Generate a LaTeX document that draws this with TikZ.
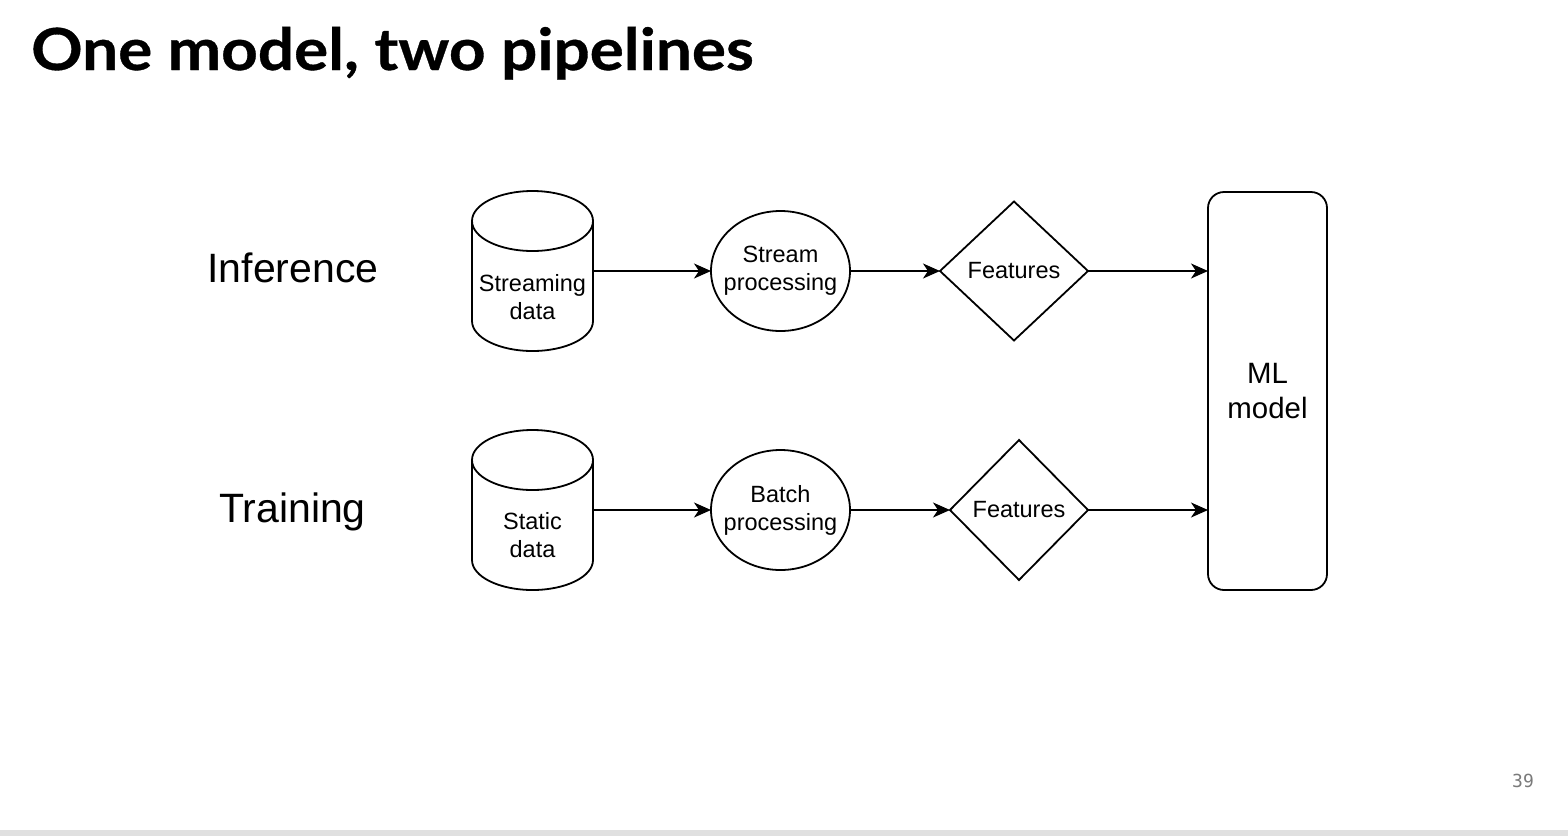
\documentclass[tikz,border=0pt]{standalone}
\usepackage{fontspec}
\setmainfont{Liberation Sans}
\newfontfamily\titlefont[FakeStretch=1.1, FakeBold=0.6]{Lato}
\newfontfamily\pagefont{DejaVu Sans Mono}
\usepackage{tikz}
\usetikzlibrary{arrows.meta, shapes.geometric, calc}
\definecolor{barcol}{HTML}{E0E0E0}
\definecolor{pagecol}{HTML}{7A7A7A}

% outline of a database cylinder drawn over a named box node
\newcommand{\dbcylinder}[1]{%
  \draw[shapeline] ($(#1.north west)+(0,-30)$) -- ($(#1.south west)+(0,30)$)
    arc[start angle=180, end angle=360, x radius=60.5pt, y radius=30pt]
    -- ($(#1.north east)+(0,-30)$)
    arc[start angle=0, end angle=180, x radius=60.5pt, y radius=30pt]
    arc[start angle=180, end angle=360, x radius=60.5pt, y radius=30pt];
}

\begin{document}
\begin{tikzpicture}[x=1pt, y=1pt, >={Stealth[length=17pt, width=15pt, inset=5pt]},
  shapeline/.style={draw=black, line width=1.8pt},
  conn/.style={->, line width=1.9pt},
  rowlabel/.style={font=\fontsize{41}{48}\selectfont, inner sep=0pt},
  boxtext/.style={font=\fontsize{23.5}{28}\selectfont, align=center, inner sep=0pt},
  dbbox/.style={minimum width=121pt, minimum height=160pt, inner sep=0pt, outer sep=0pt},
  procnode/.style={shapeline, ellipse, boxtext, inner xsep=-16pt, minimum width=139pt,
    minimum height=120pt, outer sep=0pt},
  featnode/.style={shapeline, diamond, boxtext, outer sep=0pt},
  modelnode/.style={shapeline, rounded corners=16pt, minimum width=119pt, minimum height=398pt,
    align=center, font=\fontsize{29.4}{35}\selectfont, outer sep=0pt}]
  % page
  \useasboundingbox (0,0) rectangle (1568,-836);
  \fill[white] (0,0) rectangle (1568,-836);
  \fill[barcol] (0,-830) rectangle (1568,-836);
  \node[anchor=base west, inner sep=0pt, font=\titlefont\bfseries\fontsize{58}{64}\selectfont]
    (title) at (31,-70) {One model, two pipelines};
  \node[font=\pagefont\fontsize{18}{20}\selectfont, text=pagecol] (pagenum) at (1523,-781) {39};
  % row labels
  \node[rowlabel] (inference) at (293,-268) {Inference};
  \node[rowlabel] (training) at (292.5,-512) {Training};
  % data stores
  \node[dbbox, label={[boxtext, yshift=-26pt]center:Streaming\\data}] (sdata) at (532.5,-271) {};
  \node[dbbox, label={[boxtext, yshift=-25pt]center:Static\\data}] (stdata) at (532.5,-510) {};
  \foreach \n in {sdata, stdata} \dbcylinder{\n};
  % processing
  \node[procnode] (sproc) at (780.5,-271) {Stream\\processing};
  \node[procnode] (bproc) at (780.5,-510) {Batch\\processing};
  % features
  \node[featnode, minimum width=148pt, minimum height=139pt] (feat1) at (1014,-271) {Features};
  \node[featnode, minimum width=138pt, minimum height=140pt] (feat2) at (1019,-510) {Features};
  % model
  \node[modelnode] (model) at (1267.5,-391) {ML\\model};
  % connectors
  \foreach \a/\b in {sdata/sproc, sproc/feat1, stdata/bproc, bproc/feat2}
    \draw[conn] (\a.east) -- (\b.west);
  \foreach \a in {feat1, feat2}
    \draw[conn] (\a.east) -- (\a.east -| model.west);
\end{tikzpicture}
\end{document}
